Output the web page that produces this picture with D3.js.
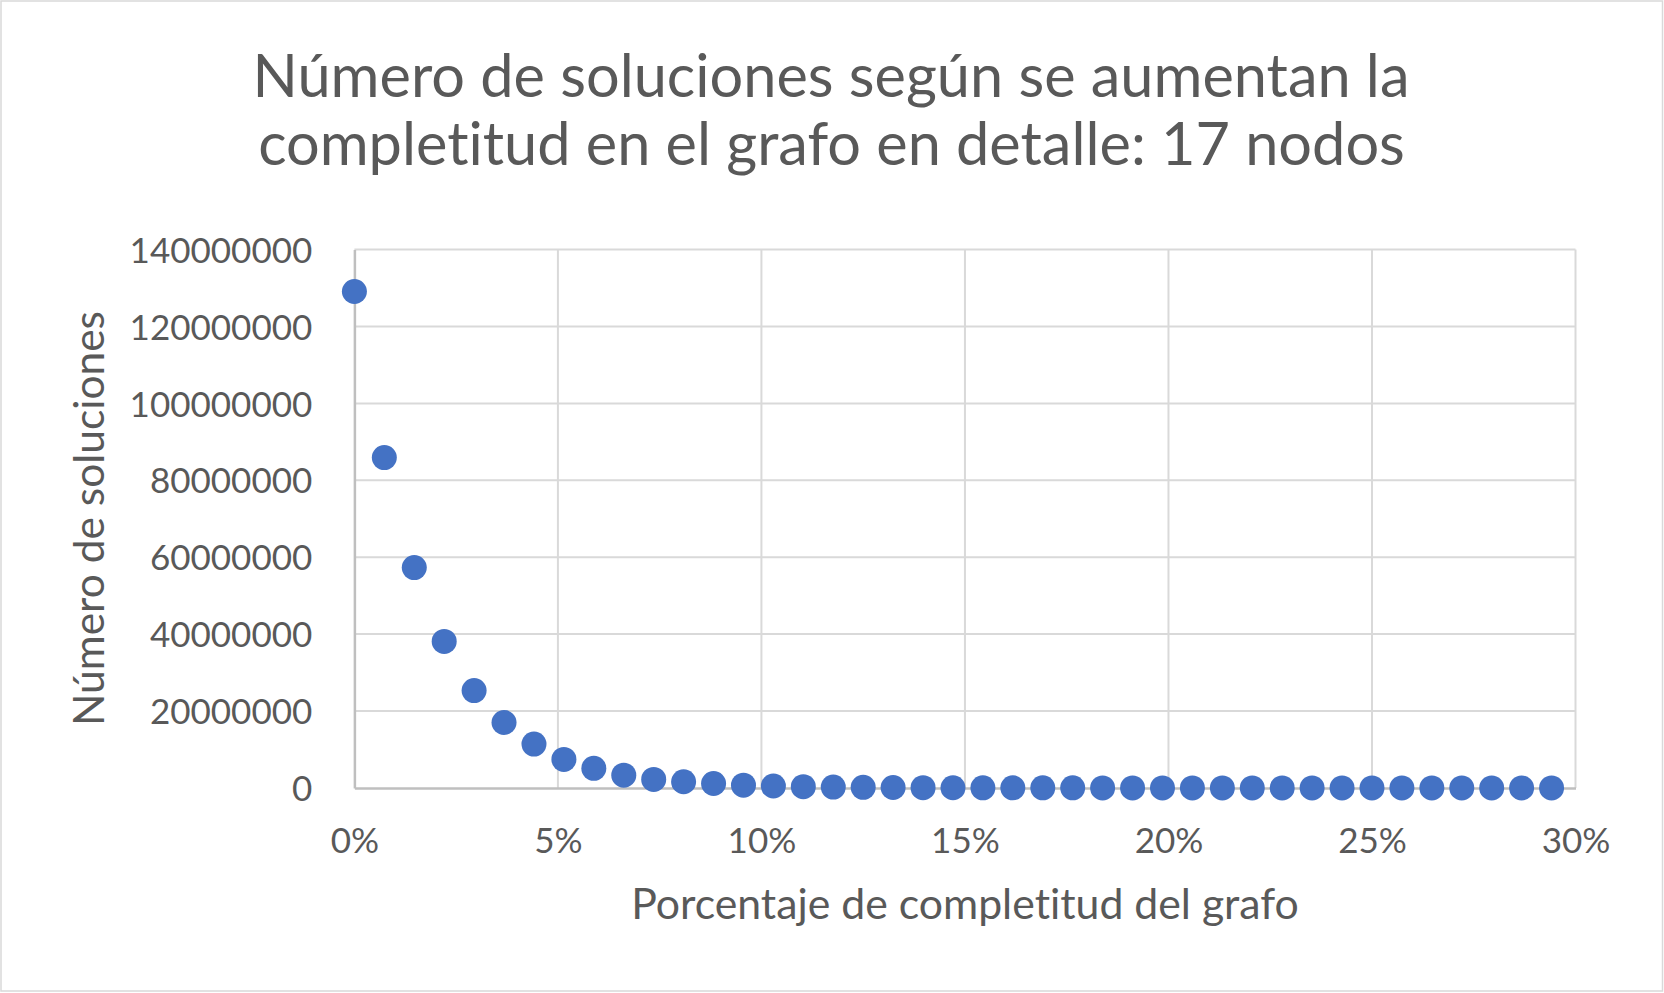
<!DOCTYPE html>
<html>
<head>
<meta charset="utf-8">
<script src="https://cdn.jsdelivr.net/npm/d3@7"></script>
<style>
  html, body { margin: 0; padding: 0; background: #fff; }
  svg { display: block; }
  text { font-family: Lato, "Open Sans", sans-serif; fill: #595959; font-variant-ligatures: none; font-feature-settings: "liga" 0, "dlig" 0; }
</style>
</head>
<body>
<svg id="chart" width="1664" height="993"></svg>
<script>
// ---- data ----
const titleLines = ["Número de soluciones según se aumentan la", "completitud en el grafo en detalle: 17 nodos"];
const xTitle = "Porcentaje de completitud del grafo";
const yTitle = "Número de soluciones";

// completeness of the graph (edges / 136)
const completitud = [0, 0.00735, 0.01471, 0.02206, 0.02941, 0.03676, 0.04412, 0.05147, 0.05882, 0.06618,
  0.07353, 0.08088, 0.08824, 0.09559, 0.10294, 0.11029, 0.11765, 0.125, 0.13235, 0.13971,
  0.14706, 0.15441, 0.16176, 0.16912, 0.17647, 0.18382, 0.19118, 0.19853, 0.20588, 0.21324,
  0.22059, 0.22794, 0.23529, 0.24265, 0.25, 0.25735, 0.26471, 0.27206, 0.27941, 0.28676, 0.29412];
const soluciones = [129100000, 85900000, 57300000, 38100000, 25300000, 17000000, 11400000, 7400000, 5100000, 3300000,
  2200000, 1600000, 1150000, 700000, 500000, 330000, 220000, 150000, 100000, 66000,
  44000, 29000, 19000, 13000, 8500, 5600, 3700, 2400, 1600, 1000,
  700, 450, 300, 200, 130, 85, 55, 35, 22, 14, 9];
const xTicks = [0, 0.05, 0.10, 0.15, 0.20, 0.25, 0.30];
const yTicks = [0, 20000000, 40000000, 60000000, 80000000, 100000000, 120000000, 140000000];

// ---- layout ----
const W = 1664, H = 993;
const plot = { left: 354.4, right: 1575.5, top: 249.6, bottom: 787.9 };
const svg = d3.select("#chart");

svg.append("rect").attr("x", 1).attr("y", 1).attr("width", W - 2.5).attr("height", H - 3)
  .attr("fill", "#fff").attr("stroke", "#d9d9d9").attr("stroke-width", 1.5);

const x = d3.scaleLinear().domain([0, 0.30]).range([plot.left, plot.right]);
const y = d3.scaleLinear().domain([0, 140000000]).range([plot.bottom, plot.top]);

// gridlines
const grid = svg.append("g");
grid.selectAll("line.h").data(yTicks.filter(d => d > 0)).join("line")
  .attr("x1", plot.left).attr("x2", plot.right)
  .attr("y1", d => y(d)).attr("y2", d => y(d))
  .attr("stroke", "#d9d9d9").attr("stroke-width", 2);
grid.selectAll("line.v").data(xTicks.filter(d => d > 0)).join("line")
  .attr("x1", d => x(d)).attr("x2", d => x(d))
  .attr("y1", plot.top).attr("y2", plot.bottom)
  .attr("stroke", "#d9d9d9").attr("stroke-width", 2);

// axes
const fmtPct = d3.format(".0%");
const xAxis = svg.append("g").attr("transform", `translate(0,${plot.bottom})`)
  .call(d3.axisBottom(x).tickValues(xTicks).tickFormat(fmtPct).tickSize(0).tickPadding(0));
xAxis.select(".domain").attr("stroke", "#bfbfbf").attr("stroke-width", 2.5);
xAxis.selectAll("text").attr("font-size", 35).attr("y", 65.4).attr("dy", 0)
  .attr("fill", "#595959").attr("font-family", "Lato");

const yAxis = svg.append("g").attr("transform", `translate(${plot.left},0)`)
  .call(d3.axisLeft(y).tickValues(yTicks).tickFormat(d3.format("d")).tickSize(0).tickPadding(0));
yAxis.select(".domain").attr("stroke", "#bfbfbf").attr("stroke-width", 2.5);
yAxis.selectAll("text").attr("font-size", 35).attr("x", 312.3 - plot.left).attr("dy", "0.36em")
  .attr("fill", "#595959").attr("font-family", "Lato");

// points
svg.append("g").selectAll("circle").data(soluciones).join("circle")
  .attr("cx", (d, i) => x(completitud[i]))
  .attr("cy", d => y(d))
  .attr("r", 12.5)
  .attr("fill", "#4472c4");

// fit text width helper
function fit(sel, target, base) {
  sel.attr("font-size", base);
  const w = sel.node().getComputedTextLength();
  sel.attr("font-size", base * target / w);
}

// title
const tl1 = svg.append("text").attr("x", 831).attr("y", 96.7).attr("text-anchor", "middle").text(titleLines[0]);
fit(tl1, 1157, 47);
const tl2 = svg.append("text").attr("x", 831.5).attr("y", 165).attr("text-anchor", "middle").text(titleLines[1]);
fit(tl2, 1147, 47);

// axis titles
const xt = svg.append("text").attr("x", 965).attr("y", 919.3).attr("text-anchor", "middle").text(xTitle);
fit(xt, 668, 36);
const yt = svg.append("text").attr("transform", "translate(104,518.5) rotate(-90)")
  .attr("text-anchor", "middle").text(yTitle);
fit(yt, 415, 36);
</script>
</body>
</html>
